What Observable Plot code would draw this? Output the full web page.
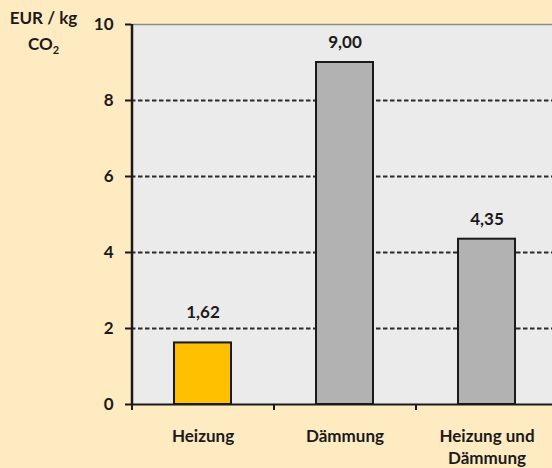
<!DOCTYPE html>
<html>
<head>
<meta charset="utf-8">
<script src="https://cdn.jsdelivr.net/npm/d3@7"></script>
<script src="https://cdn.jsdelivr.net/npm/@observablehq/plot@0.6"></script>
<style>
  html, body { margin: 0; padding: 0; background: #ffebc2; overflow: hidden; }
  #wrap { position: relative; width: 552px; height: 468px; overflow: hidden; }
  #ytitle {
    position: absolute; left: 0; top: 5px; width: 87px; text-align: center;
    font: bold 17px Lato, sans-serif; color: #1a1a1a; line-height: 26px;
  }
  #ytitle sub { font-size: 11px; vertical-align: -4px; line-height: 0; }
  svg { overflow: hidden; }
</style>
</head>
<body>
<div id="wrap">
  <div id="ytitle">EUR / kg<br>CO<sub>2</sub></div>
</div>
<script>
// Abatement cost per measure, EUR per kg CO2
const categories = ["Heizung", "Dämmung", "Heizung und\nDämmung"];
const values = [1.62, 9.00, 4.35];
const barColors = ["#ffc000", "#b2b2b2", "#b2b2b2"];
const yTicks = [0, 2, 4, 6, 8, 10];
const gridValues = [2, 4, 6, 8];

const data = categories.map((c, i) => ({category: c, value: values[i], color: barColors[i]}));
const fmt = v => v.toFixed(2).replace(".", ",");

const W = 552, H = 468;
const marginLeft = 131, marginRight = -5;
const step = (W - marginRight - marginLeft) / categories.length;
const FS = 17;
const ink = "#1a1a1a";

// the short bar's label sits higher, clear of the gridline at 2
const lowLabel = data.filter(d => d.value < 2);
const highLabel = data.filter(d => d.value >= 2);

const chart = Plot.plot({
  width: W,
  height: H,
  marginTop: 24,
  marginBottom: 64,
  marginLeft,
  marginRight,
  style: {background: "transparent", fontFamily: "Lato, sans-serif", fontWeight: "bold", fontSize: FS + "px", color: ink},
  x: {domain: categories, paddingInner: 0.6, paddingOuter: 0.3, label: null},
  y: {domain: [0, 10], label: null},
  marks: [
    Plot.frame({fill: "#ebebeb", stroke: null}),
    Plot.ruleY(gridValues, {stroke: "#2a2a2a", strokeWidth: 2, strokeDasharray: "4.5,2.5"}),
    Plot.ruleY([10], {stroke: "#8c8c8c", strokeWidth: 1.5}),
    Plot.barY(data, {x: "category", y: "value", fill: "color", stroke: ink, strokeWidth: 2}),
    Plot.text(highLabel, {x: "category", y: "value", text: d => fmt(d.value), dy: -20, fontSize: FS, fontWeight: "bold", fill: ink}),
    Plot.text(lowLabel, {x: "category", y: "value", text: d => fmt(d.value), dy: -30, fontSize: FS, fontWeight: "bold", fill: ink}),
    // axis lines
    Plot.ruleY([0], {stroke: ink, strokeWidth: 2}),
    Plot.ruleX([categories[0]], {y1: 0, y2: 10, dx: -step / 2, stroke: ink, strokeWidth: 2.5}),
    Plot.axisY({ticks: yTicks, tickSize: 6, tickPadding: 12, strokeWidth: 2, stroke: ink, fontSize: FS, fontWeight: "bold", fill: ink}),
    // category boundary ticks
    Plot.axisX({tickSize: 6, tickFormat: () => "", dx: -step / 2, strokeWidth: 2, stroke: ink}),
    Plot.axisX({tickSize: 0, tickPadding: 23, lineHeight: 1.24, fontSize: FS, fontWeight: "bold", fill: ink})
  ]
});

document.getElementById("wrap").appendChild(chart);
</script>
</body>
</html>
